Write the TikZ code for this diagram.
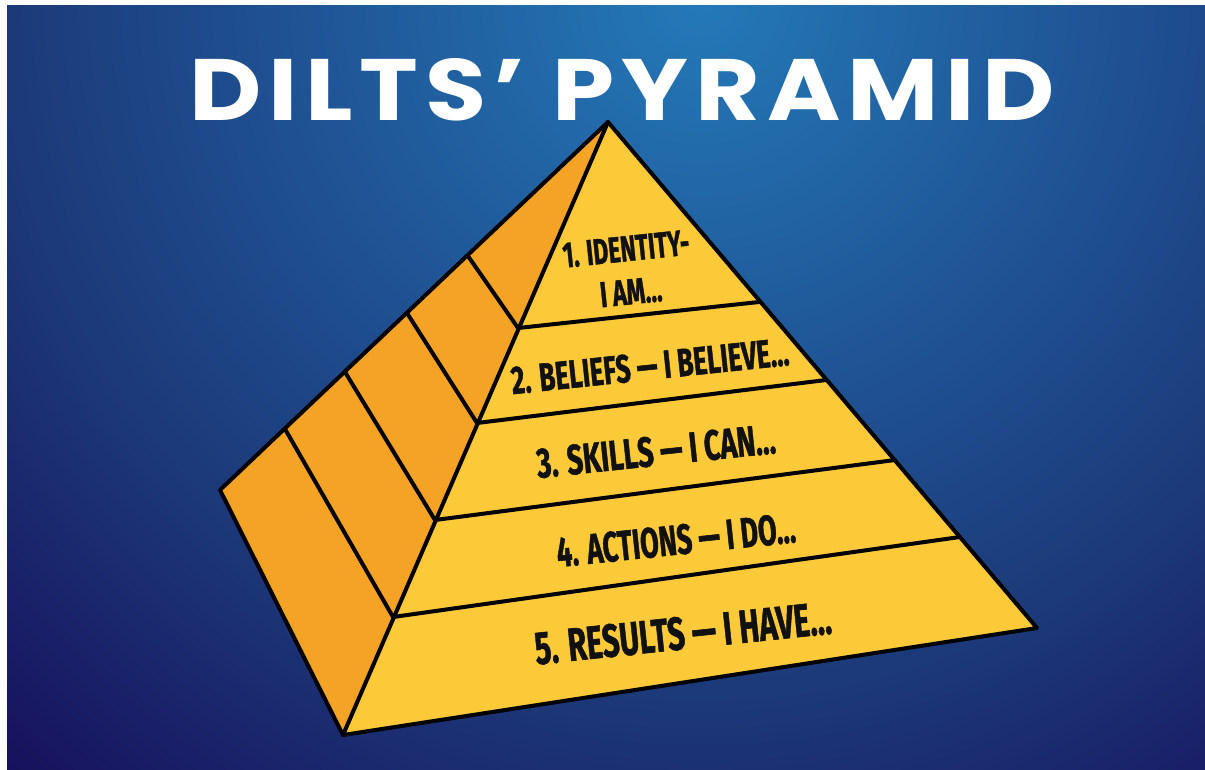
\documentclass[tikz,border=0pt]{standalone}
\usepackage{fontspec}
\usepackage{graphicx}
\newfontfamily\titlefont{Poppins}[LetterSpace=7]
\newfontfamily\labelfont{Fira Sans}[FakeBold=1.4]
\definecolor{bgA}{HTML}{2479B8}
\definecolor{bgB}{HTML}{1F5293}
\definecolor{bgC}{HTML}{1C3878}
\definecolor{bgD}{HTML}{191F68}
\definecolor{bgE}{HTML}{17115C}
\definecolor{front}{HTML}{FCC938}
\definecolor{side}{HTML}{F5A324}
\definecolor{ink}{HTML}{111111}
\pgfdeclareradialshading{bgshade}{\pgfpoint{0bp}{0bp}}{color(0bp)=(bgA); color(10bp)=(bgB); color(17bp)=(bgC); color(22bp)=(bgD); color(25bp)=(bgE); color(50bp)=(bgE)}
\tikzset{
  edge/.style={draw=black, line width=4pt, line join=round, line cap=round},
  lbl/.style={text=ink, inner sep=0pt, rotate=6, font=\labelfont\bfseries},
  ttl/.style={text=white, inner sep=0pt, font=\titlefont\bfseries}
}
\begin{document}
\begin{tikzpicture}[x=1pt,y=-1pt]
\useasboundingbox (0,0) rectangle (1205,769);
\fill[white] (0,0) rectangle (1205,769);
\begin{scope}
  \clip (7,5) rectangle (1205,769);
  \shade[shading=bgshade] (700,0) circle[radius=1040pt];
\end{scope}
% pyramid corners
\coordinate (A) at (608,122);
\coordinate (B) at (343,735);
\coordinate (C) at (1037,628);
\coordinate (L) at (220,490);
% front band points
\coordinate (P1) at (518,328); \coordinate (Q1) at (759,302);
\coordinate (P2) at (477,423); \coordinate (Q2) at (826,380);
\coordinate (P3) at (435,520); \coordinate (Q3) at (895,460);
\coordinate (P4) at (393,617); \coordinate (Q4) at (960,537);
% side band points
\coordinate (R1) at (468,256);
\coordinate (R2) at (407,313);
\coordinate (R3) at (345,372);
\coordinate (R4) at (285,429);
% faces
\fill[side] (A) -- (L) -- (B) -- cycle;
\fill[front] (A) -- (B) -- (C) -- cycle;
% band lines
\draw[edge] (P1) -- (Q1);
\draw[edge] (P2) -- (Q2);
\draw[edge] (P3) -- (Q3);
\draw[edge] (P4) -- (Q4);
\draw[edge] (R1) -- (P1);
\draw[edge] (R2) -- (P2);
\draw[edge] (R3) -- (P3);
\draw[edge] (R4) -- (P4);
% outlines
\draw[edge] (A) -- (B);
\draw[edge] (A) -- (L) -- (B) -- (C) -- cycle;
% title
\node[ttl] (title) at (622,90) {\resizebox{865pt}{62pt}{DILTS’ PYRAMID}};
% labels
\node[lbl] (l1a) at (626,249) {\resizebox{127pt}{25pt}{1. IDENTITY-}};
\node[lbl] (l1b) at (631,292) {\resizebox{62pt}{25pt}{I AM...}};
\node[lbl] (l2) at (650,366) {\resizebox{279pt}{28pt}{2. BELIEFS — I BELIEVE...}};
\node[lbl] (l3) at (656,451) {\resizebox{240pt}{30pt}{3. SKILLS — I CAN...}};
\node[lbl] (l4) at (676,540) {\resizebox{240pt}{30pt}{4. ACTIONS — I DO...}};
\node[lbl] (l5) at (683,633) {\resizebox{298pt}{33pt}{5. RESULTS — I HAVE...}};
\end{tikzpicture}
\end{document}
